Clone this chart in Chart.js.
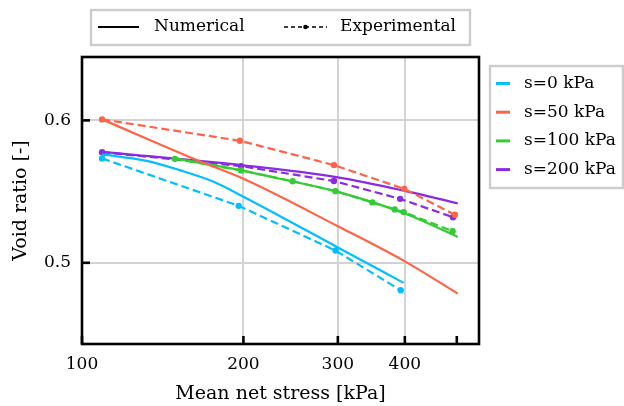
<!DOCTYPE html>
<html>
<head>
<meta charset="utf-8">
<script src="https://cdn.jsdelivr.net/npm/chart.js@4.4.0/dist/chart.umd.min.js"></script>
<style>
  html, body { margin: 0; padding: 0; background: #fff; }
  #graph { display: block; }
</style>
</head>
<body>
<canvas id="graph" width="624" height="406"></canvas>
<script>
// suction levels
const suctions = ['s=0 kPa', 's=50 kPa', 's=100 kPa', 's=200 kPa'];
const colors = ['#00bfff', '#ff6347', '#32cd32', '#8a2be2'];

// numerical curves (mean net stress kPa, void ratio)
const numS0X = [109, 132, 152, 176, 200, 300, 398];
const numS0Y = [0.5761, 0.5716, 0.5651, 0.5569, 0.5464, 0.5108, 0.4859];
const numS50X = [109, 166, 200, 300, 400, 502];
const numS50Y = [0.6007, 0.5712, 0.5590, 0.5257, 0.5010, 0.4784];
const numS100X = [149, 200, 234, 300, 400, 502];
const numS100Y = [0.5733, 0.5646, 0.5590, 0.5498, 0.5346, 0.5182];
const numS200X = [109, 200, 300, 400, 502];
const numS200Y = [0.5779, 0.5684, 0.5600, 0.5505, 0.5417];

// experimental points
const expS0X = [109, 196, 297, 393];
const expS0Y = [0.5733, 0.5400, 0.5086, 0.4807];
const expS50X = [109, 197, 295, 399, 496];
const expS50Y = [0.6007, 0.5857, 0.5686, 0.5519, 0.5337];
const expS100X = [149, 198, 247, 297, 348, 383, 398, 491];
const expS100Y = [0.5730, 0.5649, 0.5573, 0.5503, 0.5424, 0.5375, 0.5356, 0.5222];
const expS200X = [109, 198, 295, 392, 492];
const expS200Y = [0.5777, 0.5679, 0.5574, 0.5449, 0.5320];

// axes
const xTicks = [100, 200, 300, 400, 500];
const xTickLabels = ['100', '200', '300', '400', ''];
const yTicks = [0.5, 0.6];
const yTickLabels = ['0.5', '0.6'];

const zip = (xs, ys) => xs.map((v, i) => ({ x: v, y: ys[i] }));

const numX = [numS0X, numS50X, numS100X, numS200X];
const numY = [numS0Y, numS50Y, numS100Y, numS200Y];
const expX = [expS0X, expS50X, expS100X, expS200X];
const expY = [expS0Y, expS50Y, expS100Y, expS200Y];

const datasets = [];
suctions.forEach((s, i) => {
  datasets.push({
    label: s,
    data: zip(numX[i], numY[i]),
    borderColor: colors[i],
    borderWidth: 2.2,
    pointRadius: 0,
    cubicInterpolationMode: 'monotone',
    fill: false
  });
  datasets.push({
    label: s + ' exp',
    data: zip(expX[i], expY[i]),
    borderColor: colors[i],
    backgroundColor: colors[i],
    borderWidth: 2.2,
    borderDash: [8, 4],
    pointRadius: 3.2,
    pointBorderWidth: 0,
    pointBackgroundColor: colors[i],
    tension: 0,
    fill: false
  });
});

// frame, inward ticks and the two legends
const decor = {
  id: 'decor',
  afterDraw(chart) {
    const { ctx, chartArea: a, scales: { x, y } } = chart;
    ctx.save();
    ctx.strokeStyle = '#000';
    ctx.lineWidth = 2.6;
    ctx.strokeRect(a.left, a.top, a.right - a.left, a.bottom - a.top);
    xTicks.forEach(v => {
      const px = x.getPixelForValue(v);
      ctx.beginPath(); ctx.moveTo(px, a.bottom); ctx.lineTo(px, a.bottom - 8); ctx.stroke();
    });
    yTicks.forEach(v => {
      const py = y.getPixelForValue(v);
      ctx.beginPath(); ctx.moveTo(a.left, py); ctx.lineTo(a.left + 8, py); ctx.stroke();
    });

    ctx.font = '17px "DejaVu Serif"';
    ctx.textBaseline = 'middle';
    ctx.fillStyle = '#000';

    // top legend
    ctx.strokeStyle = '#cccccc';
    ctx.lineWidth = 2.4;
    ctx.strokeRect(91, 10, 379, 35);
    ctx.strokeStyle = '#000';
    ctx.lineWidth = 1.8;
    ctx.beginPath(); ctx.moveTo(98, 27); ctx.lineTo(139, 27); ctx.stroke();
    ctx.fillText('Numerical', 154, 27);
    ctx.setLineDash([4, 3]);
    ctx.lineWidth = 1.3;
    ctx.beginPath(); ctx.moveTo(284, 27); ctx.lineTo(327, 27); ctx.stroke();
    ctx.setLineDash([]);
    ctx.beginPath(); ctx.arc(305.5, 27, 2.3, 0, Math.PI * 2); ctx.fill();
    ctx.fillText('Experimental', 340, 27);

    // right legend
    ctx.strokeStyle = '#cccccc';
    ctx.lineWidth = 2.4;
    ctx.strokeRect(490, 66, 133, 122);
    suctions.forEach((s, i) => {
      const ry = 83.5 + 28.7 * i;
      ctx.strokeStyle = colors[i];
      ctx.lineWidth = 3;
      ctx.beginPath(); ctx.moveTo(496, ry); ctx.lineTo(510, ry); ctx.stroke();
      ctx.fillStyle = '#000';
      ctx.fillText(s, 524, ry);
    });
    ctx.restore();
  }
};

Chart.defaults.font.family = '"DejaVu Serif"';
Chart.defaults.color = '#000';

new Chart(document.getElementById('graph').getContext('2d'), {
  type: 'line',
  data: { datasets },
  plugins: [decor],
  options: {
    responsive: false,
    animation: false,
    devicePixelRatio: 1,
    layout: { padding: { left: 0, top: 57, right: 145, bottom: 0 } },
    plugins: { legend: { display: false }, tooltip: { enabled: false } },
    scales: {
      x: {
        type: 'logarithmic',
        min: 100,
        max: 550,
        afterBuildTicks: s => { s.ticks = xTicks.map(v => ({ value: v })); },
        afterFit: s => { s.height = 62; },
        grid: {
          drawTicks: false,
          lineWidth: 2,
          color: c => (c.tick && (c.tick.value === 100 || c.tick.value === 500)) ? 'rgba(0,0,0,0)' : '#d3d3d3'
        },
        border: { display: false },
        ticks: {
          autoSkip: false,
          maxRotation: 0,
          padding: 10,
          font: { size: 17 },
          callback: (v, i) => xTickLabels[i]
        },
        title: { display: true, text: 'Mean net stress [kPa]', font: { size: 19 }, padding: { top: 0, bottom: 1 } }
      },
      y: {
        min: 0.443,
        max: 0.6445,
        afterBuildTicks: s => { s.ticks = yTicks.map(v => ({ value: v })); },
        afterFit: s => { s.width = 82; },
        grid: { drawTicks: false, lineWidth: 2, color: '#d3d3d3' },
        border: { display: false },
        ticks: {
          padding: 11,
          font: { size: 17 },
          callback: (v, i) => yTickLabels[i]
        },
        title: { display: true, text: 'Void ratio [-]', font: { size: 19 }, padding: { top: 10, bottom: 0 } }
      }
    }
  }
});
</script>
</body>
</html>
